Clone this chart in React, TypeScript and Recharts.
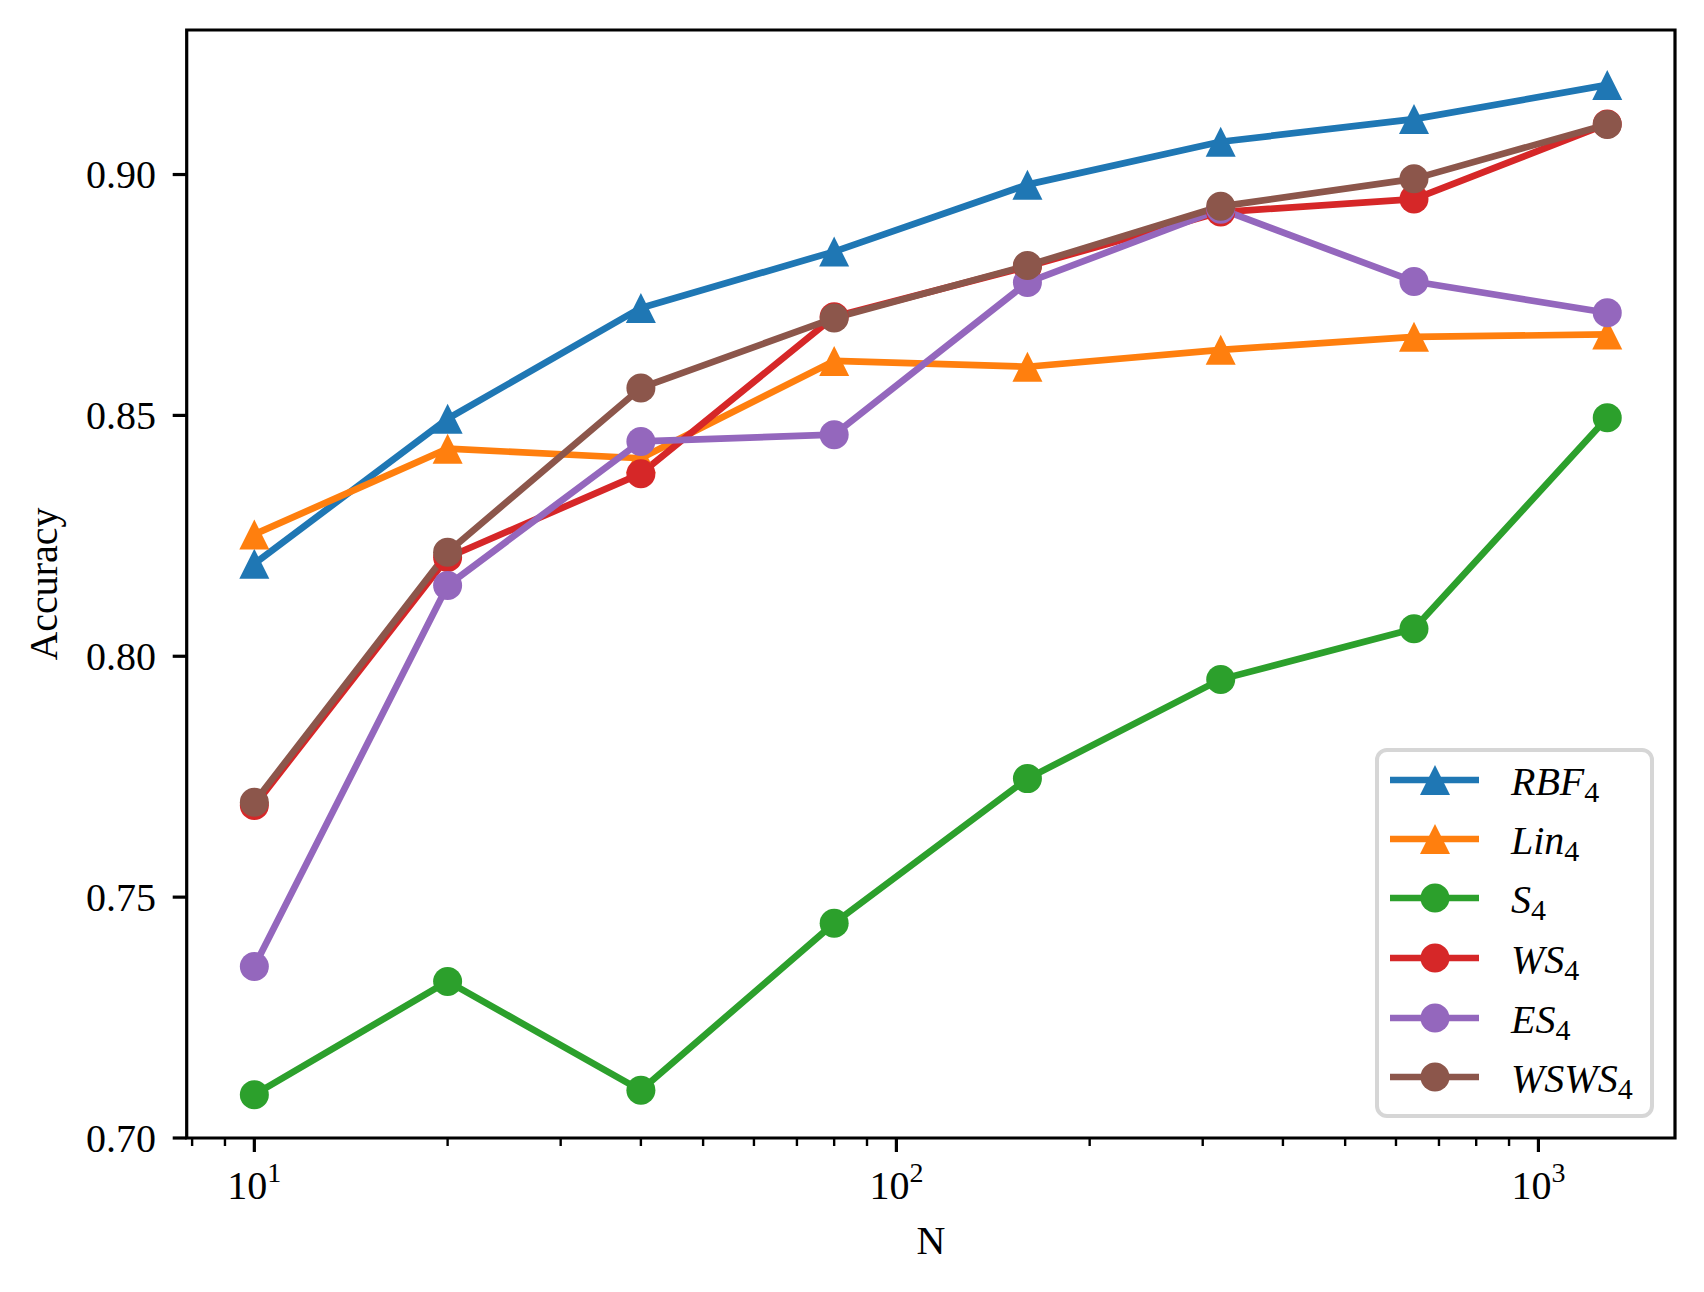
import React from 'react';
import { LineChart, Line, XAxis, YAxis, ReferenceArea, Legend } from 'recharts';

const N = [10, 20, 40, 80, 160, 320, 640, 1280];
const RBF4 = [0.8192, 0.8493, 0.8723, 0.884, 0.8979, 0.9068, 0.9115, 0.9186];
const LIN4 = [0.8253, 0.8431, 0.8411, 0.8613, 0.8601, 0.8636, 0.8663, 0.8668];
const S4 = [0.709, 0.7325, 0.7099, 0.7446, 0.7746, 0.7952, 0.8057, 0.8495];
const WS4 = [0.769, 0.8205, 0.8379, 0.8705, 0.8809, 0.8922, 0.8949, 0.9105];
const ES4 = [0.7356, 0.8147, 0.8446, 0.846, 0.8776, 0.8928, 0.8778, 0.8713];
const WSWS4 = [0.7697, 0.8216, 0.8557, 0.8702, 0.8811, 0.8934, 0.8991, 0.9104];

const X_TICKS = [8, 9, 10, 20, 30, 40, 50, 60, 70, 80, 90, 100, 200, 300, 400, 500, 600, 700, 800, 900, 1000];
const Y_TICKS = [0.7, 0.75, 0.8, 0.85, 0.9];
const X_DOMAIN: [number, number] = [7.846, 1632];
const Y_DOMAIN: [number, number] = [0.7, 0.93];

const SERIES = [
  { key: 'rbf', base: 'RBF', color: '#1f77b4', marker: 'tri', values: RBF4 },
  { key: 'lin', base: 'Lin', color: '#ff7f0e', marker: 'tri', values: LIN4 },
  { key: 's', base: 'S', color: '#2ca02c', marker: 'circle', values: S4 },
  { key: 'ws', base: 'WS', color: '#d62728', marker: 'circle', values: WS4 },
  { key: 'es', base: 'ES', color: '#9467bd', marker: 'circle', values: ES4 },
  { key: 'wsws', base: 'WSWS', color: '#8c564b', marker: 'circle', values: WSWS4 },
];

const data = N.map((n, i) => {
  const row: any = { n };
  SERIES.forEach((s) => {
    row[s.key] = s.values[i];
  });
  return row;
});

const FONT = '"Liberation Serif", "DejaVu Serif", serif';
const LW = 6.7;

function MarkerShape({ cx, cy, color, marker }: any) {
  if (cx == null || cy == null) return null;
  if (marker === 'tri') {
    const h = 15;
    return <path d={`M${cx},${cy - h}L${cx - h},${cy + h}L${cx + h},${cy + h}Z`} fill={color} stroke="none" />;
  }
  return <circle cx={cx} cy={cy} r={14.5} fill={color} stroke="none" />;
}

function XTick(props: any) {
  const { x, y, payload } = props;
  const v = payload.value;
  const k = Math.round(Math.log10(v));
  const major = Math.abs(Math.pow(10, k) - v) < 1e-6;
  return (
    <g>
      <line x1={x} x2={x} y1={y} y2={y + (major ? 14 : 8)} stroke="#000" strokeWidth={major ? 3.2 : 2.4} />
      {major && (
        <text x={x} y={y + 61} textAnchor="middle" fontSize={40} fontFamily={FONT} fill="#000">
          10<tspan fontSize={28} dy={-17}>{k}</tspan>
        </text>
      )}
    </g>
  );
}

function YTick(props: any) {
  const { x, y, payload } = props;
  return (
    <g>
      <line x1={x - 14} x2={x} y1={y} y2={y} stroke="#000" strokeWidth={3.2} />
      <text x={x - 30.7} y={y + 13.5} textAnchor="end" fontSize={40} fontFamily={FONT} fill="#000">
        {Number(payload.value).toFixed(2)}
      </text>
    </g>
  );
}

function LegendBox() {
  const rows = [32, 91, 150, 210, 270, 329];
  return (
    <svg width={279} height={370} style={{ display: 'block' }}>
      <rect x={2} y={2} width={275} height={366} rx={10} ry={10} fill="#ffffff" fillOpacity={0.8} stroke="#d6d6d6" strokeWidth={4} />
      {SERIES.map((s, i) => {
        const y = rows[i];
        return (
          <g key={s.key}>
            <line x1={15} x2={104} y1={y} y2={y} stroke={s.color} strokeWidth={LW} />
            <MarkerShape cx={60} cy={y} color={s.color} marker={s.marker} />
            <text x={136} y={y + 15} fontSize={40} fontFamily={FONT} fill="#000">
              <tspan fontStyle="italic">{s.base}</tspan>
              <tspan fontSize={30} dy={7}>4</tspan>
            </text>
          </g>
        );
      })}
    </svg>
  );
}

export default function App() {
  return (
    <LineChart width={1688} height={1276} data={data} margin={{ top: 22, right: 21, bottom: 0, left: 0 }}>
      <XAxis
        dataKey="n"
        type="number"
        scale="log"
        domain={X_DOMAIN}
        allowDataOverflow
        ticks={X_TICKS}
        interval={0}
        tick={<XTick />}
        tickLine={false}
        tickSize={0}
        tickMargin={0}
        axisLine={false}
        height={146}
        label={(p: any) => {
          const vb = p.viewBox || {};
          return (
            <text x={vb.x + vb.width / 2} y={vb.y + 116} textAnchor="middle" fontSize={40} fontFamily={FONT} fill="#000">
              N
            </text>
          );
        }}
      />
      <YAxis
        type="number"
        domain={Y_DOMAIN}
        allowDataOverflow
        ticks={Y_TICKS}
        interval={0}
        tick={<YTick />}
        tickLine={false}
        tickSize={0}
        tickMargin={0}
        axisLine={false}
        width={178.7}
        label={(p: any) => {
          const vb = p.viewBox || {};
          const cy = vb.y + vb.height / 2;
          return (
            <text x={49} y={cy} textAnchor="middle" fontSize={40} fontFamily={FONT} fill="#000" transform={`rotate(-90, 49, ${cy})`}>
              Accuracy
            </text>
          );
        }}
      />
      <ReferenceArea
        x1={X_DOMAIN[0]}
        x2={X_DOMAIN[1]}
        y1={Y_DOMAIN[0]}
        y2={Y_DOMAIN[1]}
        fill="none"
        fillOpacity={0}
        stroke="#000"
        strokeWidth={3.2}
        ifOverflow="visible"
      />
      {SERIES.map((s) => (
        <Line
          key={s.key}
          dataKey={s.key}
          type="linear"
          stroke={s.color}
          strokeWidth={LW}
          strokeLinejoin="round"
          isAnimationActive={false}
          activeDot={false}
          dot={(p: any) => <MarkerShape key={`${s.key}-${p.index}`} cx={p.cx} cy={p.cy} color={s.color} marker={s.marker} />}
        />
      ))}
      <Legend
        layout="vertical"
        align="center"
        verticalAlign="middle"
        wrapperStyle={{ position: 'absolute', left: 1367, top: 740, width: 279, height: 370, margin: 0, padding: 0 }}
        content={() => <LegendBox />}
      />
    </LineChart>
  );
}
